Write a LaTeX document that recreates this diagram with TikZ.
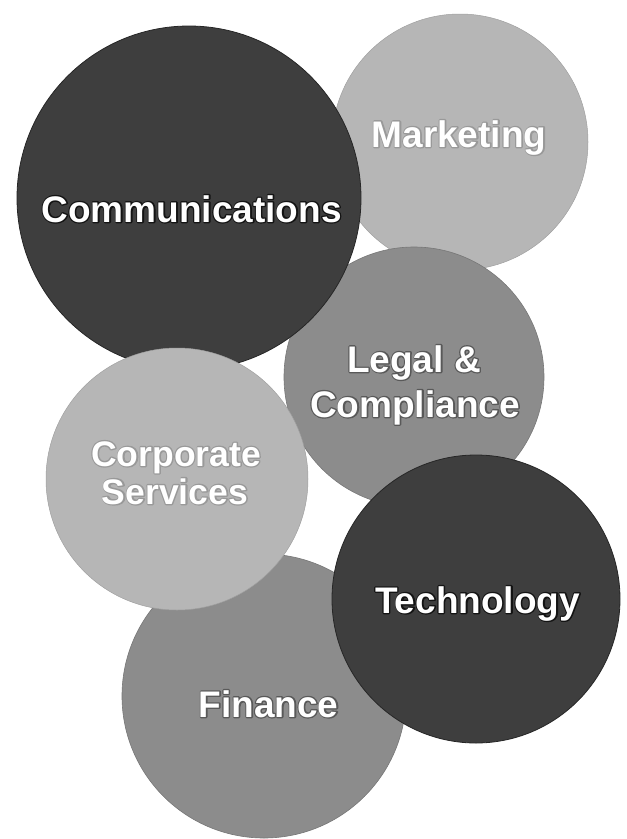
\documentclass[tikz,border=0pt]{standalone}
\usepackage{fontspec}
\setmainfont{Liberation Sans}
\definecolor{cdark}{HTML}{3E3E3E}
\definecolor{cmid}{HTML}{8C8C8C}
\definecolor{clight}{HTML}{B6B6B6}
% white bold text over a thin dark stroked copy of itself
\newcommand\olinetext[2]{%
  \makebox[0pt]{\color{white}\special{pdf:literal direct #1 G 2.6 w 1 j 1 Tr}#2\special{pdf:literal direct 0 Tr}}%
  \makebox[0pt]{\color{white}#2}}
\tikzset{
  disc/.style={circle, inner sep=0pt, minimum size=#1},
  darkdisc/.style={disc=#1, fill=cdark, draw=black!85, line width=0.8pt},
  middisc/.style={disc=#1, fill=cmid, draw=cmid!85!black, line width=0.6pt},
  lightdisc/.style={disc=#1, fill=clight, draw=clight!88!black, line width=0.5pt},
  lbl/.style={anchor=base, inner sep=0pt, font=\bfseries\fontsize{37}{43}\selectfont}
}
\begin{document}
\begin{tikzpicture}[x=1pt,y=-1pt]
\useasboundingbox (0,0) rectangle (627,839);
\node[lightdisc=256pt] (mkt) at (460,142) {};
\node[middisc=260pt] (legal) at (414,377) {};
\node[darkdisc=344pt] (comm) at (189,198) {};
\node[middisc=284pt] (fin) at (264,696) {};
\node[lightdisc=262pt] (corp) at (177,479) {};
\node[darkdisc=288pt] (tech) at (476,599) {};
\node[lbl] (tcomm) at (191.5,222) {\olinetext{0.08}{Communications}};
\node[lbl] (tmkt) at (459,147) {\olinetext{0.6}{Marketing}};
\node[lbl] (tlegal1) at (414,372) {\olinetext{0.35}{Legal \&}};
\node[lbl] (tlegal2) at (415,417) {\olinetext{0.35}{Compliance}};
\node[lbl,font=\bfseries\fontsize{35.5}{40}\selectfont] (tcorp1) at (176,466) {\olinetext{0.6}{Corporate}};
\node[lbl,font=\bfseries\fontsize{35.5}{40}\selectfont] (tcorp2) at (175,504) {\olinetext{0.6}{Services}};
\node[lbl] (ttech) at (477.5,613) {\olinetext{0.08}{Technology}};
\node[lbl] (tfin) at (268.5,717) {\olinetext{0.35}{Finance}};
\end{tikzpicture}
\end{document}
